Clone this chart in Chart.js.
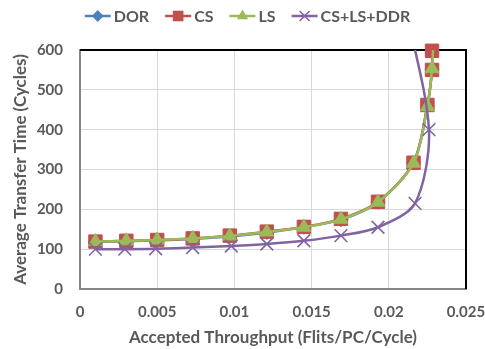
<!DOCTYPE html>
<html><head><meta charset="utf-8">
<script src="https://cdn.jsdelivr.net/npm/chart.js@4/dist/chart.umd.min.js"></script>
<style>html,body{margin:0;padding:0;background:#fff;}#wrap{width:485px;height:349px;position:relative;}</style>
</head><body><div id="wrap"><canvas id="c" width="485" height="349"></canvas></div>
<script>
const seriesNames = ['DOR', 'CS', 'LS', 'CS+LS+DDR'];
const throughputDOR = [0.0010, 0.0030, 0.0050, 0.0073, 0.0097, 0.0121, 0.0145, 0.0169, 0.0193, 0.0216, 0.0225, 0.0228, 0.0228];
const latencyDOR    = [118, 120, 122, 126, 132, 142, 155, 174, 218, 318, 460, 552, 600];
const throughputCS  = [0.0010, 0.0030, 0.0050, 0.0073, 0.0097, 0.0121, 0.0145, 0.0169, 0.0193, 0.0216, 0.0225, 0.0228, 0.0228];
const latencyCS     = [119, 121, 123, 127, 134, 144, 156, 176, 219, 317, 462, 550, 598];
const throughputLS  = [0.0010, 0.0030, 0.0050, 0.0073, 0.0097, 0.0121, 0.0145, 0.0169, 0.0193, 0.0216, 0.0225, 0.0228, 0.0229];
const latencyLS     = [119, 121, 123, 127, 133, 143, 155, 175, 218, 316, 458, 553, 640];
const throughputDDR = [0.0010, 0.0029, 0.0049, 0.0073, 0.0098, 0.0121, 0.0145, 0.0169, 0.0193, 0.0217, 0.0226, 0.0211];
const latencyDDR    = [100, 100, 101, 104, 108, 113, 121, 134, 155, 215, 400, 705];
const xTickValues = [0, 0.005, 0.01, 0.015, 0.02, 0.025];
const xTickLabels = ['0', '0.005', '0.01', '0.015', '0.02', '0.025'];
const yTickValues = [0, 100, 200, 300, 400, 500, 600];
const yTickLabels = ['0', '100', '200', '300', '400', '500', '600'];
const xTitle = 'Accepted Throughput (Flits/PC/Cycle)';
const yTitle = 'Average Transfer Time (Cycles)';

const FONT = 'Lato';
const TXT = '#595959';
const colors = ['#4F81BD', '#C0504D', '#9BBB59', '#8064A2'];
const styles = ['rectRot', 'rect', 'triangle', 'crossRot'];
const radii = [7, 9.5, 8, 9];
const legendRadii = [6, 7.5, 6.5, 7];
const xs = [throughputDOR, throughputCS, throughputLS, throughputDDR];
const ys = [latencyDOR, latencyCS, latencyLS, latencyDDR];

const datasets = seriesNames.map((name, k) => {
  const ds = {
    label: name,
    data: xs[k].map((x, i) => ({x: x, y: ys[k][i]})),
    borderColor: colors[k],
    backgroundColor: colors[k],
    pointBackgroundColor: colors[k],
    pointBorderColor: colors[k],
    pointStyle: styles[k],
    pointRadius: radii[k],
    pointBorderWidth: k === 3 ? 1.6 : 1,
    borderWidth: 2.5,
    tension: 0.3,
    fill: false,
    order: 4 - k,
    legendRadius: legendRadii[k]
  };
  if (k === 1) ds.clip = {left: 2, top: 10, right: 10, bottom: 2};
  return ds;
});

function drawMarker(ctx, style, r, x, y) {
  ctx.beginPath();
  if (style === 'rectRot') {
    ctx.moveTo(x, y - r); ctx.lineTo(x + r, y); ctx.lineTo(x, y + r); ctx.lineTo(x - r, y); ctx.closePath();
    ctx.fill();
  } else if (style === 'rect') {
    const s = r * Math.SQRT1_2;
    ctx.rect(x - s, y - s, 2 * s, 2 * s); ctx.fill();
  } else if (style === 'triangle') {
    ctx.moveTo(x, y - r);
    ctx.lineTo(x + r * 0.866, y + r * 0.5);
    ctx.lineTo(x - r * 0.866, y + r * 0.5);
    ctx.closePath(); ctx.fill();
  } else {
    const s = r * Math.SQRT1_2;
    ctx.lineWidth = 1.6;
    ctx.moveTo(x - s, y - s); ctx.lineTo(x + s, y + s);
    ctx.moveTo(x + s, y - s); ctx.lineTo(x - s, y + s);
    ctx.stroke();
  }
}

const legendPlugin = {
  id: 'xlLegend',
  afterDraw(chart) {
    const ctx = chart.ctx;
    ctx.save();
    ctx.font = 'bold 16px ' + FONT;
    const lineLen = 26, gapText = 3, gapItem = 16;
    const items = chart.data.datasets.map(ds => ({ds: ds, w: ctx.measureText(ds.label).width}));
    const total = items.reduce((s, it) => s + lineLen + gapText + it.w, 0) + gapItem * (items.length - 1);
    let x = 247.5 - total / 2;
    const y = 16;
    items.forEach(it => {
      ctx.strokeStyle = it.ds.borderColor; ctx.fillStyle = it.ds.borderColor; ctx.lineWidth = 2.5;
      ctx.beginPath(); ctx.moveTo(x, y); ctx.lineTo(x + lineLen, y); ctx.stroke();
      drawMarker(ctx, it.ds.pointStyle, it.ds.legendRadius, x + lineLen / 2, y);
      ctx.fillStyle = TXT; ctx.textBaseline = 'middle'; ctx.textAlign = 'left';
      ctx.fillText(it.ds.label, x + lineLen + gapText, y + 1);
      x += lineLen + gapText + it.w + gapItem;
    });
    ctx.restore();
  }
};

const framePlugin = {
  id: 'frame',
  beforeDatasetsDraw(chart) {
    const a = chart.chartArea, ctx = chart.ctx;
    ctx.save();
    ctx.strokeStyle = '#000'; ctx.lineWidth = 2;
    ctx.beginPath();
    ctx.moveTo(a.left, a.top); ctx.lineTo(a.right, a.top); ctx.lineTo(a.right, a.bottom);
    ctx.stroke();
    ctx.restore();
  }
};

new Chart(document.getElementById('c'), {
  type: 'line',
  data: {datasets: datasets},
  plugins: [legendPlugin, framePlugin],
  options: {
    responsive: false,
    devicePixelRatio: 1,
    animation: false,
    layout: {padding: {top: 50, right: 19, left: 0, bottom: 0}},
    plugins: {legend: {display: false}, tooltip: {enabled: false}},
    scales: {
      x: {
        type: 'linear', min: 0, max: 0.025,
        afterBuildTicks: s => { s.ticks = xTickValues.map(v => ({value: v})); },
        afterFit: s => { s.height = 60; s.paddingLeft = 0; s.paddingRight = 0; },
        grid: {color: '#D9D9D9', lineWidth: 1, drawTicks: false},
        border: {color: '#868686', width: 2},
        ticks: {padding: 14, color: TXT, font: {family: FONT, size: 15, weight: 'bold'}, maxRotation: 0,
          callback: (v, i) => xTickLabels[i]},
        title: {display: true, text: xTitle, color: TXT, font: {family: FONT, size: 17, weight: 'bold'}, padding: {top: 0, bottom: 1}}
      },
      y: {
        type: 'linear', min: 0, max: 600,
        afterBuildTicks: s => { s.ticks = yTickValues.map(v => ({value: v})); },
        afterFit: s => { s.width = 80; },
        grid: {color: '#D9D9D9', lineWidth: 1, drawTicks: false},
        border: {color: '#868686', width: 2},
        ticks: {padding: 17, color: TXT, font: {family: FONT, size: 15, weight: 'bold'},
          callback: (v, i) => yTickLabels[i]},
        title: {display: true, text: yTitle, color: TXT, font: {family: FONT, size: 17, weight: 'bold'}, padding: {top: 10, bottom: 0}}
      }
    }
  }
});
</script></body></html>
